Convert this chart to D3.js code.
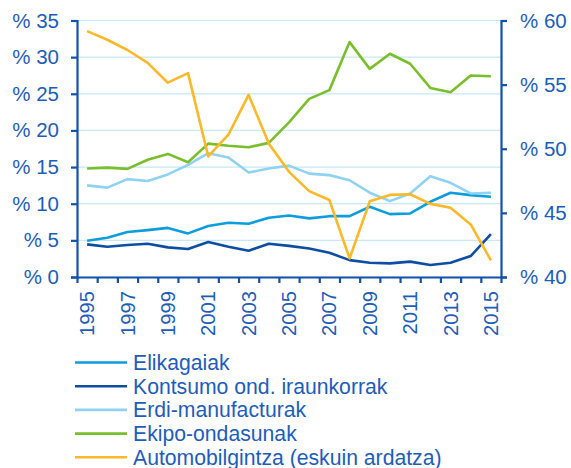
<!DOCTYPE html>
<html><head><meta charset="utf-8">
<script src="https://cdn.jsdelivr.net/npm/d3@7"></script>
<style>body{margin:0;background:#fff}svg{display:block}</style>
</head><body><svg id="c" width="571" height="468"></svg>
<script>
const years = d3.range(1995, 2016);
const labelYears = [1995,1997,1999,2001,2003,2005,2007,2009,2011,2013,2015];
const leftTicks = [0,5,10,15,20,25,30,35];
const rightTicks = [40,45,50,55,60];
const elikagaiak = [4.95,5.36,6.13,6.4,6.7,5.95,6.95,7.4,7.26,8.08,8.4,8.0,8.3,8.3,9.58,8.58,8.67,10.26,11.5,11.17,10.94];
const kontsumo = [4.45,4.13,4.36,4.54,4.04,3.81,4.77,4.13,3.59,4.54,4.25,3.9,3.3,2.3,1.95,1.86,2.1,1.63,1.95,2.86,5.86];
const erdi = [12.5,12.2,13.35,13.1,14.0,15.3,16.9,16.3,14.25,14.8,15.2,14.1,13.9,13.2,11.5,10.35,11.4,13.75,12.85,11.4,11.5];
const ekipo = [14.8,14.93,14.75,16.0,16.8,15.66,18.2,17.9,17.7,18.3,21.1,24.3,25.5,32.05,28.4,30.46,29.1,25.8,25.2,27.5,27.4];
const automobil = [59.17,58.5,57.7,56.7,55.15,55.9,49.4,51.1,54.2,50.4,48.2,46.7,46.0,41.45,45.9,46.4,46.45,45.7,45.4,44.1,41.3];
const seriesNames = ["Elikagaiak","Kontsumo ond. iraunkorrak","Erdi-manufacturak","Ekipo-ondasunak","Automobilgintza (eskuin ardatza)"];
const seriesColors = ["#0e9ddc","#0d4ea3","#8fd2f2","#78bf2b","#fbb829"];

const svg = d3.select("#c");
const L = 77, R = 501, T = 20.5, B = 277;
const axisCol = "#1352ab", textCol = "#1d5db9", gridCol = "#c6e8f7";
const font = "Arial, 'Liberation Sans', sans-serif";

const x = d3.scaleBand().domain(years).range([L, R]);
const xEdge = d3.scaleLinear().domain([0, years.length]).range([L, R]);
const yL = d3.scaleLinear().domain([0, 35]).range([B, T]);
const yR = d3.scaleLinear().domain([40, 60]).range([B, T]);

// gridlines
svg.append("g").selectAll("line").data(leftTicks).join("line")
  .attr("x1", L).attr("x2", R).attr("y1", d => yL(d)).attr("y2", d => yL(d))
  .attr("stroke", gridCol).attr("stroke-width", 1.2);

// lines
const cx = (d, i) => x(years[i]) + x.bandwidth() / 2;
const data = [elikagaiak, kontsumo, erdi, ekipo, automobil];
data.forEach((arr, k) => {
  const ys = k === 4 ? yR : yL;
  const line = d3.line().x((d, i) => cx(d, i)).y(d => ys(d));
  svg.append("path").datum(arr).attr("d", line).attr("fill", "none")
    .attr("stroke", seriesColors[k]).attr("stroke-width", 2.6).attr("stroke-linejoin", "round");
});

function styleAxis(g) {
  g.selectAll("path,line").attr("stroke", axisCol).attr("stroke-width", 2.2);
  g.selectAll("text").attr("fill", textCol).style("font-family", font).style("font-size", "20.5px");
}

// left axis
svg.append("g").attr("transform", `translate(${L},0)`)
  .call(d3.axisLeft(yL).tickValues(leftTicks).tickSize(6).tickSizeOuter(6).tickPadding(12).tickFormat(d => "% " + d))
  .call(styleAxis);
// right axis
svg.append("g").attr("transform", `translate(${R},0)`)
  .call(d3.axisRight(yR).tickValues(rightTicks).tickSize(6).tickSizeOuter(6).tickPadding(13).tickFormat(d => "% " + d))
  .call(styleAxis);
// bottom axis ticks at band edges
svg.append("g").attr("transform", `translate(0,${B})`)
  .call(d3.axisBottom(xEdge).tickValues(d3.range(0, years.length + 1)).tickSize(6).tickSizeOuter(0).tickFormat(""))
  .call(styleAxis);
// year labels
const xl = svg.append("g").attr("transform", `translate(0,${B})`)
  .call(d3.axisBottom(x).tickValues(labelYears).tickSize(0).tickFormat(d => d));
xl.select(".domain").remove();
xl.selectAll("text").attr("fill", textCol).style("font-family", font).style("font-size", "20.2px")
  .attr("transform", "rotate(-90)").attr("text-anchor", "end").attr("x", -14).attr("y", 0).attr("dy", "0.35em");

// legend
const lg = svg.append("g");
seriesNames.forEach((n, i) => {
  const yy = 362.5 + i * 23.7;
  lg.append("line").attr("x1", 75).attr("x2", 127).attr("y1", yy).attr("y2", yy)
    .attr("stroke", seriesColors[i]).attr("stroke-width", 2.6);
  lg.append("text").attr("x", 133).attr("y", yy).attr("dy", "0.35em").text(n)
    .attr("fill", textCol).style("font-family", font).style("font-size", "21.2px");
});
</script></body></html>
